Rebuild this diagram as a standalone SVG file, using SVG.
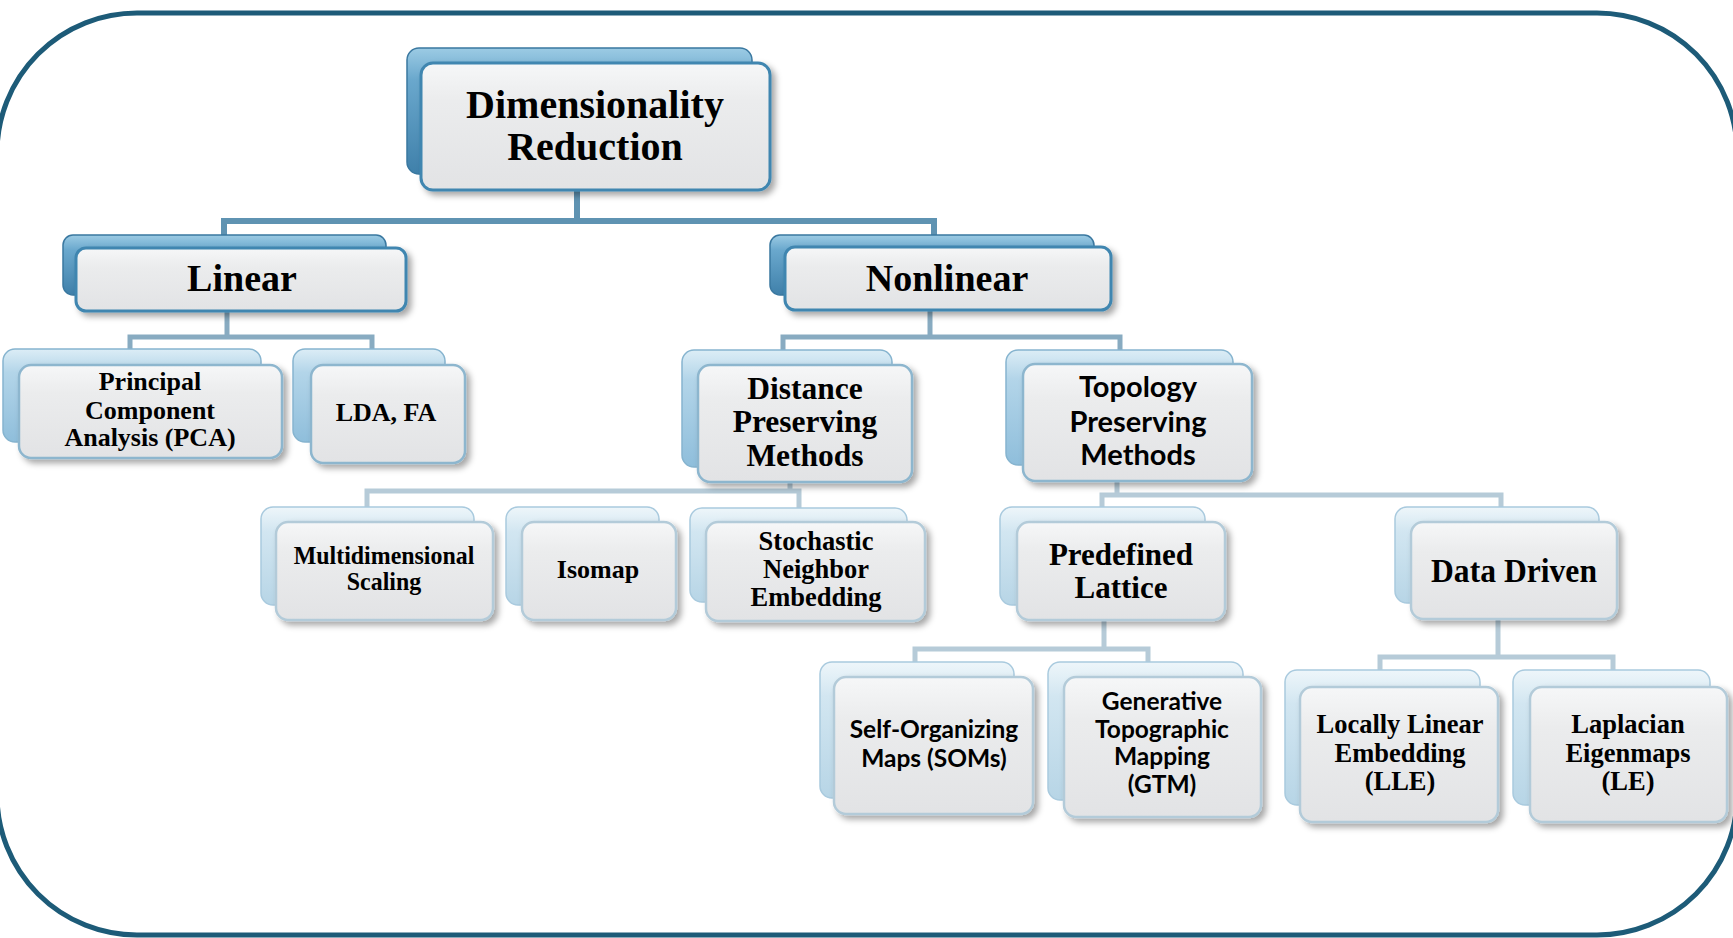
<svg xmlns="http://www.w3.org/2000/svg" width="1733" height="938" viewBox="0 0 1733 938">
<defs>
<linearGradient id="gB0" x1="0" y1="0" x2="0" y2="1">
<stop offset="0" stop-color="#9ccbe4"/><stop offset="0.25" stop-color="#6aa8cd"/><stop offset="1" stop-color="#3f80aa"/>
</linearGradient>
<linearGradient id="gB2" x1="0" y1="0" x2="0" y2="1">
<stop offset="0" stop-color="#dcedf6"/><stop offset="0.25" stop-color="#b3d5e9"/><stop offset="1" stop-color="#8fbedb"/>
</linearGradient>
<linearGradient id="gB3" x1="0" y1="0" x2="0" y2="1">
<stop offset="0" stop-color="#eef6fa"/><stop offset="0.25" stop-color="#d2e6f1"/><stop offset="1" stop-color="#b7d5e6"/>
</linearGradient>
<linearGradient id="gF" x1="0" y1="0" x2="0" y2="1">
<stop offset="0" stop-color="#f6f7f8"/><stop offset="0.3" stop-color="#ebeced"/><stop offset="1" stop-color="#e2e3e5"/>
</linearGradient>
<filter id="sh" x="-10%" y="-10%" width="130%" height="140%">
<feDropShadow dx="4" dy="4" stdDeviation="3" flood-color="#000" flood-opacity="0.35"/>
</filter>
<style>
.border{fill:none;stroke:#1d5b78;stroke-width:5}
.b0{fill:url(#gB0);stroke:#3a78a0;stroke-width:1.5}
.b2{fill:url(#gB2);stroke:#86b4cf;stroke-width:1.5}
.b3{fill:url(#gB3);stroke:#a9cade;stroke-width:1.5}
.f0{fill:url(#gF);stroke:#3f86b0;stroke-width:3;filter:url(#sh)}
.f2{fill:url(#gF);stroke:#8db6ce;stroke-width:2.5;filter:url(#sh)}
.f3{fill:url(#gF);stroke:#b3cbd9;stroke-width:2.5;filter:url(#sh)}
.c0{fill:none;stroke:#5f93b2;stroke-width:6}
.c2{fill:none;stroke:#88abc1;stroke-width:5}
.c3{fill:none;stroke:#b6cbd8;stroke-width:5}
.se{font-family:"Liberation Serif","Times New Roman",serif;font-weight:bold;text-anchor:middle;fill:#000}
.sa{font-family:Lato,"Open Sans","Liberation Sans",sans-serif;font-weight:bold;text-anchor:middle;fill:#000}
</style>
</defs>
<rect width="1733" height="938" fill="#ffffff"/>
<rect class="border" x="-3" y="13" width="1740" height="922" rx="140" ry="140"/>

<g id="connectors">
<path class="c0" d="M577 190 V221 M224 236 V221 H934 V236"/>
<path class="c2" d="M227 311 V337 M130 351 V337 H372 V351"/>
<path class="c2" d="M930 310 V337 M783 352 V337 H1120 V352"/>
<path class="c3" d="M790 482 V491 M367 509 V491 H799 V509"/>
<path class="c3" d="M1117 480 V495 M1102 509 V495 H1501 V509"/>
<path class="c3" d="M1104 620 V649 M915 663 V649 H1148 V663"/>
<path class="c3" d="M1498 620 V657 M1380 671 V657 H1613 V671"/>
</g>

<g id="node-root">
<rect class="b0" x="407" y="48" width="345" height="126" rx="12"/>
<rect class="f0" x="421" y="63" width="349" height="127" rx="12"/>
<text class="se" font-size="40"><tspan x="595" y="118">Dimensionality</tspan><tspan x="595" y="160">Reduction</tspan></text>
</g>

<g id="node-linear">
<rect class="b0" x="63" y="235" width="323" height="60" rx="10"/>
<rect class="f0" x="76" y="248" width="330" height="63" rx="10"/>
<text class="se" font-size="38" x="242" y="291">Linear</text>
</g>

<g id="node-nonlinear">
<rect class="b0" x="770" y="235" width="324" height="60" rx="10"/>
<rect class="f0" x="785" y="247" width="326" height="63" rx="10"/>
<text class="se" font-size="38" x="947" y="291">Nonlinear</text>
</g>

<g id="node-pca">
<rect class="b2" x="3" y="349" width="258" height="93" rx="12"/>
<rect class="f2" x="19" y="365" width="263" height="93" rx="12"/>
<text class="se" font-size="26"><tspan x="150" y="390">Principal</tspan><tspan x="150" y="419">Component</tspan><tspan x="150" y="446">Analysis (PCA)</tspan></text>
</g>

<g id="node-lda">
<rect class="b2" x="293" y="349" width="152" height="93" rx="12"/>
<rect class="f2" x="311" y="365" width="154" height="98" rx="12"/>
<text class="se" font-size="26" x="386" y="421">LDA, FA</text>
</g>

<g id="node-distance">
<rect class="b2" x="682" y="350" width="210" height="117" rx="12"/>
<rect class="f2" x="698" y="365" width="214" height="117" rx="12"/>
<text class="se" font-size="31.5"><tspan x="805" y="399">Distance</tspan><tspan x="805" y="432">Preserving</tspan><tspan x="805" y="466">Methods</tspan></text>
</g>

<g id="node-topology">
<rect class="b2" x="1006" y="350" width="227" height="115" rx="12"/>
<rect class="f2" x="1023" y="364" width="229" height="117" rx="12"/>
<text class="sa" font-size="29"><tspan x="1138" y="397">Topology</tspan><tspan x="1138" y="432">Preserving</tspan><tspan x="1138" y="465">Methods</tspan></text>
</g>

<g id="node-mds">
<rect class="b3" x="261" y="507" width="213" height="98" rx="12"/>
<rect class="f3" x="276" y="522" width="217" height="98" rx="12"/>
<text class="se" font-size="26" transform="translate(384 0) scale(0.92 1)"><tspan x="0" y="564">Multidimensional</tspan><tspan x="0" y="590">Scaling</tspan></text>
</g>

<g id="node-isomap">
<rect class="b3" x="506" y="507" width="153" height="98" rx="12"/>
<rect class="f3" x="522" y="522" width="154" height="98" rx="12"/>
<text class="se" font-size="26" x="598" y="578">Isomap</text>
</g>

<g id="node-sne">
<rect class="b3" x="690" y="508" width="217" height="94" rx="12"/>
<rect class="f3" x="706" y="522" width="219" height="99" rx="12"/>
<text class="se" font-size="26.5"><tspan x="816" y="550">Stochastic</tspan><tspan x="816" y="578">Neighbor</tspan><tspan x="816" y="606">Embedding</tspan></text>
</g>

<g id="node-predefined">
<rect class="b3" x="1000" y="507" width="205" height="98" rx="12"/>
<rect class="f3" x="1017" y="522" width="208" height="98" rx="12"/>
<text class="se" font-size="32" transform="translate(1121 0) scale(0.97 1)"><tspan x="0" y="565">Predefined</tspan><tspan x="0" y="598">Lattice</tspan></text>
</g>

<g id="node-datadriven">
<rect class="b3" x="1395" y="507" width="204" height="96" rx="12"/>
<rect class="f3" x="1411" y="522" width="206" height="97" rx="12"/>
<text class="se" font-size="34" transform="translate(1514 0) scale(0.93 1)" x="0" y="582">Data Driven</text>
</g>

<g id="node-som">
<rect class="b3" x="820" y="662" width="194" height="136" rx="12"/>
<rect class="f3" x="834" y="677" width="199" height="137" rx="12"/>
<text class="sa" font-size="24.5"><tspan x="934" y="738">Self-Organizing</tspan><tspan x="934" y="767">Maps (SOMs)</tspan></text>
</g>

<g id="node-gtm">
<rect class="b3" x="1048" y="662" width="195" height="138" rx="12"/>
<rect class="f3" x="1064" y="677" width="197" height="140" rx="12"/>
<text class="sa" font-size="24.5"><tspan x="1162" y="710">Generative</tspan><tspan x="1162" y="738">Topographic</tspan><tspan x="1162" y="765">Mapping</tspan><tspan x="1162" y="793">(GTM)</tspan></text>
</g>

<g id="node-lle">
<rect class="b3" x="1285" y="670" width="195" height="135" rx="12"/>
<rect class="f3" x="1300" y="687" width="198" height="135" rx="12"/>
<text class="se" font-size="26.5"><tspan x="1400" y="733">Locally Linear</tspan><tspan x="1400" y="762">Embedding</tspan><tspan x="1400" y="790">(LLE)</tspan></text>
</g>

<g id="node-le">
<rect class="b3" x="1513" y="670" width="197" height="135" rx="12"/>
<rect class="f3" x="1530" y="687" width="197" height="135" rx="12"/>
<text class="se" font-size="26.5"><tspan x="1628" y="733">Laplacian</tspan><tspan x="1628" y="762">Eigenmaps</tspan><tspan x="1628" y="790">(LE)</tspan></text>
</g>
</svg>
